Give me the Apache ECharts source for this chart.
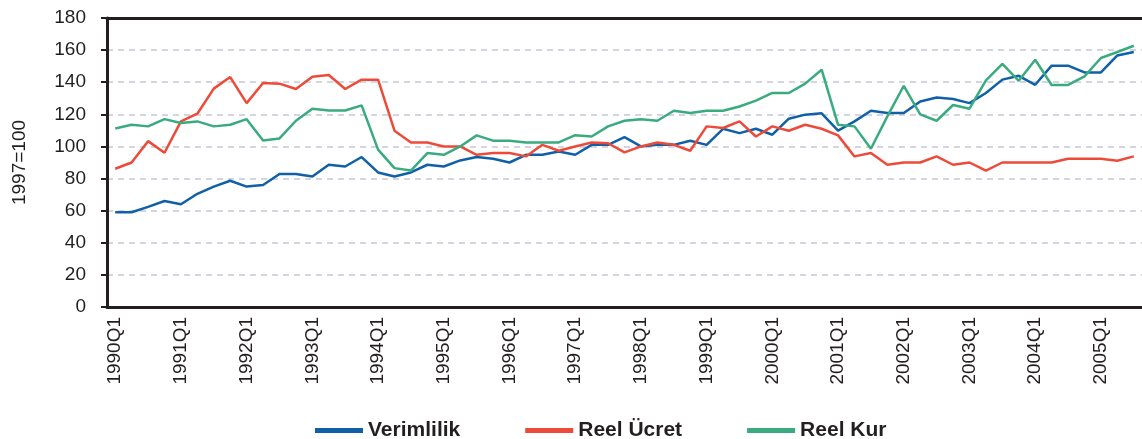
<!DOCTYPE html>
<html>
<head>
<meta charset="utf-8">
<script src="https://cdn.jsdelivr.net/npm/echarts@6/dist/echarts.min.js"></script>
<style>
  html, body { margin: 0; padding: 0; background: #fff; }
  #main { width: 1142px; height: 439px; }
</style>
</head>
<body>
<div id="main"></div>
<script>
// ceyrekler 1990Q1 - 2005Q3
var quarters = [
  '1990Q1','1990Q2','1990Q3','1990Q4','1991Q1','1991Q2','1991Q3','1991Q4',
  '1992Q1','1992Q2','1992Q3','1992Q4','1993Q1','1993Q2','1993Q3','1993Q4',
  '1994Q1','1994Q2','1994Q3','1994Q4','1995Q1','1995Q2','1995Q3','1995Q4',
  '1996Q1','1996Q2','1996Q3','1996Q4','1997Q1','1997Q2','1997Q3','1997Q4',
  '1998Q1','1998Q2','1998Q3','1998Q4','1999Q1','1999Q2','1999Q3','1999Q4',
  '2000Q1','2000Q2','2000Q3','2000Q4','2001Q1','2001Q2','2001Q3','2001Q4',
  '2002Q1','2002Q2','2002Q3','2002Q4','2003Q1','2003Q2','2003Q3','2003Q4',
  '2004Q1','2004Q2','2004Q3','2004Q4','2005Q1','2005Q2','2005Q3'
];

var verimlilik = [
  59, 59, 62.4, 66, 64, 70.5, 75, 78.6, 75, 76, 82.8, 82.8, 81.3, 88.6, 87.5, 93.4,
  83.8, 81.3, 83.8, 88.6, 87.5, 91.3, 93.4, 92.3, 90, 94.8, 94.8, 96.9, 94.8, 101, 101, 105.8,
  100, 101, 101, 103.6, 101, 111, 108.3, 111, 107.3, 117.3, 119.8, 120.6, 109.8, 115.6, 122.2, 120.8,
  120.8, 128, 130.5, 129.5, 127, 133.3, 141.6, 144, 138.4, 150.3, 150.3, 146.1, 146.1, 156.7, 158.8
];

var reelUcret = [
  86.1, 90, 103.3, 96.1, 115.6, 120.4, 136, 143.2, 127, 139.5, 139.1, 135.8, 143.4, 144.5, 135.8, 141.6,
  141.6, 109.8, 102.5, 102.5, 100, 100, 94.8, 95.9, 95.9, 93.8, 101, 97.3, 100, 102.5, 102, 96.3,
  100, 102.5, 101, 97.3, 112.5, 111.5, 115.6, 106.2, 112.5, 109.8, 113.5, 111, 106.9, 93.8, 95.9, 88.6,
  90, 90, 93.8, 88.6, 90, 85, 90, 90, 90, 90, 92.3, 92.3, 92.3, 91.1, 93.8
];

var reelKur = [
  111.2, 113.5, 112.5, 117, 114.6, 115.6, 112.5, 113.5, 117, 103.7, 105, 116, 123.5, 122.4, 122.4, 125.6,
  98, 86.5, 85, 95.9, 94.8, 100, 106.9, 103.6, 103.6, 102.5, 102.5, 102.5, 107, 106.2, 112.5, 116,
  117, 116, 122.2, 120.8, 122.2, 122.2, 124.9, 128.5, 133.3, 133.3, 139.1, 147.8, 113.5, 112.5, 98.6, 118.7,
  137.8, 120, 116, 125.8, 123.5, 141.1, 151.5, 140.9, 154, 138.3, 138.3, 143.6, 155.1, 158.8, 162.7
];

var yTicks = { min: 0, max: 180, step: 20 };

var font = '"Liberation Sans", Arial, Helvetica, sans-serif';
var ink = '#231f20';

var chart = echarts.init(document.getElementById('main'));

chart.setOption({
  animation: false,
  textStyle: { fontFamily: font },
  grid: { left: 107, right: 0, top: 18, bottom: 132 },
  legend: {
    left: 310,
    top: 415,
    icon: 'rect',
    itemWidth: 48,
    itemHeight: 5,
    itemGap: 65,
    textStyle: { fontSize: 21, fontWeight: 'bold', color: ink, fontFamily: font }
  },
  xAxis: [{
    type: 'category',
    data: quarters,
    boundaryGap: true,
    axisLine: { lineStyle: { color: ink, width: 3 } },
    axisTick: { interval: 0, length: 5, lineStyle: { color: ink, width: 2 } },
    axisLabel: { interval: 3, rotate: 90, margin: 10, fontSize: 19, color: ink, fontFamily: font }
  }, {
    // ust cerceve cizgisi (180)
    type: 'category',
    data: quarters,
    position: 'top',
    axisLine: { lineStyle: { color: ink, width: 3 } },
    axisTick: { show: false },
    axisLabel: { show: false }
  }],
  yAxis: {
    type: 'value',
    min: yTicks.min,
    max: yTicks.max,
    interval: yTicks.step,
    name: '1997=100',
    nameLocation: 'middle',
    nameGap: 78,
    nameTextStyle: { fontSize: 19, color: ink, fontFamily: font },
    axisLine: { show: true, lineStyle: { color: ink, width: 3 } },
    axisTick: { show: true, length: 6, lineStyle: { color: ink, width: 2 } },
    axisLabel: { fontSize: 19, color: ink, margin: 21, fontFamily: font },
    splitLine: { lineStyle: { color: '#c8c8d6', width: 1.5, type: [6, 5] } }
  },
  series: [
    { name: 'Verimlilik', type: 'line', data: verimlilik, showSymbol: false,
      color: '#1060a8', lineStyle: { width: 2.5 } },
    { name: 'Reel Ücret', type: 'line', data: reelUcret, showSymbol: false,
      color: '#ee4a3a', lineStyle: { width: 2.5 } },
    { name: 'Reel Kur', type: 'line', data: reelKur, showSymbol: false,
      color: '#3aab7f', lineStyle: { width: 2.5 } }
  ]
});
</script>
</body>
</html>
